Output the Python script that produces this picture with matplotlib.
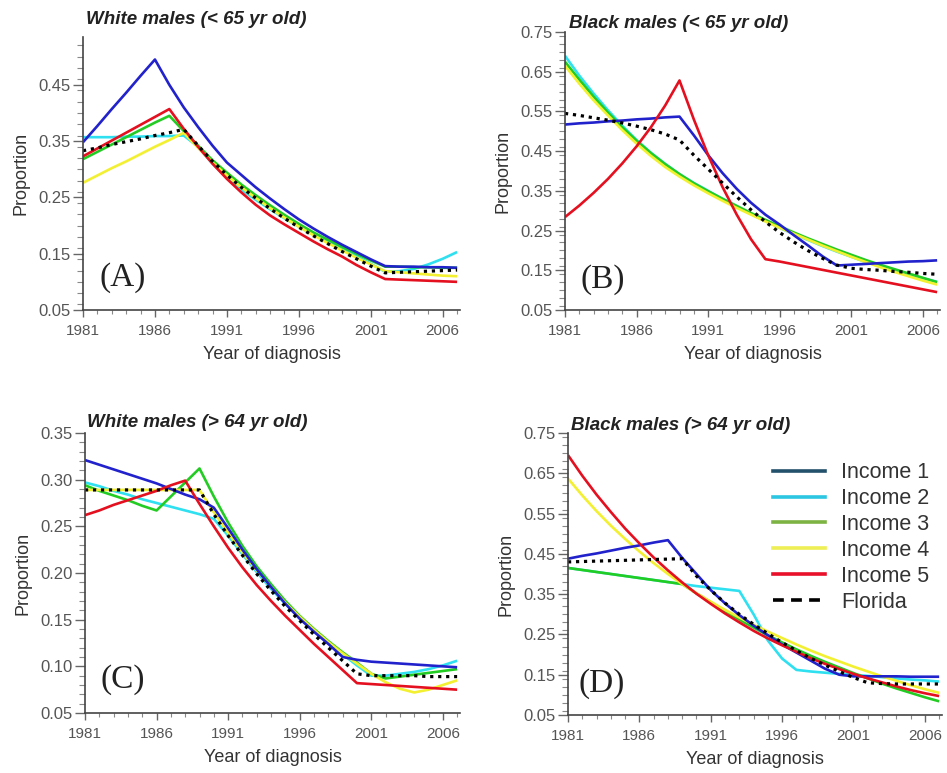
import matplotlib
matplotlib.use("Agg")
import matplotlib.pyplot as plt
from matplotlib.lines import Line2D
from matplotlib.ticker import MultipleLocator

plt.rcParams['font.family'] = ['Liberation Sans', 'DejaVu Sans']

years = list(range(1981, 2008))

# (A) White males < 65
a_inc1 = [.348, .377, .407, .436, .466, .495, .450, .410, .375, .342, .312, .290, .268, .248,
          .229, .211, .195, .180, .166, .153, .140, .128, .127, .127, .126, .126, .125]
a_inc2 = [.357, .357, .357, .358, .358, .359, .359, .360, .340, .310, .285, .264, .246, .229,
          .213, .198, .184, .171, .158, .146, .132, .118, .119, .123, .131, .141, .153]
a_inc3 = [.318, .331, .344, .357, .370, .383, .395, .368, .342, .316, .294, .273, .254, .236,
          .219, .203, .188, .175, .162, .150, .138, .127, .127, .126, .126, .125, .125]
a_inc4 = [.276, .289, .302, .314, .327, .340, .352, .365, .338, .312, .289, .268, .249, .231,
          .214, .198, .183, .169, .156, .143, .131, .119, .117, .115, .113, .111, .110]
a_inc5 = [.323, .337, .351, .365, .379, .393, .407, .372, .340, .310, .283, .259, .237, .218,
          .202, .187, .172, .158, .145, .130, .117, .105, .104, .103, .102, .101, .100]
a_fl = [.333, .338, .344, .349, .354, .360, .365, .371, .342, .314, .290, .268, .249, .230,
        .213, .197, .182, .168, .154, .141, .128, .116, .117, .118, .119, .120, .121]

# (B) Black males < 65
b_inc1 = [.517, .520, .522, .525, .527, .530, .532, .535, .537, .490, .440, .395, .355, .320,
          .290, .265, .238, .212, .185, .162, .164, .166, .168, .170, .172, .173, .175]
b_inc2 = [.690, .640, .595, .553, .514, .478, .446, .418, .392, .370, .350, .330, .311, .292,
          .274, .257, .241, .226, .211, .197, .184, .171, .160, .149, .139, .130, .121]
b_inc3 = [.675, .630, .587, .547, .510, .476, .445, .417, .392, .369, .349, .330, .312, .294,
          .277, .261, .245, .230, .216, .202, .189, .176, .164, .153, .142, .131, .120]
b_inc4 = [.665, .620, .578, .540, .503, .469, .438, .410, .386, .364, .344, .325, .307, .290,
          .273, .257, .242, .227, .212, .198, .184, .171, .158, .146, .135, .124, .114]
b_inc5 = [.284, .313, .345, .380, .419, .462, .510, .565, .628, .530, .440, .360, .290, .228,
          .178, .172, .165, .158, .151, .144, .137, .130, .123, .116, .109, .102, .095]
b_fl = [.545, .540, .534, .528, .521, .513, .504, .493, .478, .440, .405, .370, .335, .302,
        .272, .245, .221, .199, .180, .163, .155, .152, .150, .147, .145, .142, .140]

# (C) White males > 64
c_inc1 = [.321, .316, .311, .306, .301, .296, .290, .284, .279, .270, .248, .225, .204, .185,
          .167, .151, .137, .124, .110, .107, .105, .104, .103, .102, .101, .100, .099]
c_inc2 = [.297, .293, .288, .284, .279, .275, .271, .267, .263, .258, .240, .220, .201, .183,
          .167, .152, .138, .125, .113, .101, .090, .090, .092, .094, .097, .101, .106]
c_inc3 = [.294, .288, .283, .278, .272, .267, .282, .297, .312, .282, .254, .229, .207, .188,
          .170, .154, .140, .127, .115, .104, .092, .087, .089, .091, .093, .095, .097]
c_inc4 = [.289, .289, .289, .289, .289, .289, .289, .289, .289, .265, .243, .222, .203, .185,
          .168, .153, .139, .126, .114, .103, .092, .083, .076, .072, .075, .080, .085]
c_inc5 = [.262, .267, .273, .278, .283, .288, .294, .299, .274, .250, .227, .206, .187, .170,
          .154, .139, .124, .110, .096, .082, .081, .080, .079, .078, .077, .076, .075]
c_fl = [.289, .289, .289, .289, .289, .289, .289, .289, .289, .263, .240, .219, .199, .181,
        .164, .149, .134, .120, .106, .092, .090, .090, .090, .090, .089, .089, .089]

# (D) Black males > 64
d_inc1 = [.438, .445, .451, .458, .465, .471, .478, .484, .440, .400, .360, .327, .298, .272,
          .248, .225, .205, .185, .165, .150, .146, .146, .146, .146, .145, .145, .145]
d_inc2 = [.415, .410, .405, .400, .395, .390, .385, .380, .375, .370, .366, .362, .358, .300,
          .235, .190, .162, .158, .155, .152, .150, .147, .144, .141, .138, .136, .133]
d_inc3 = [.415, .410, .405, .400, .395, .390, .385, .380, .375, .352, .330, .308, .287, .267,
          .248, .230, .213, .197, .182, .168, .154, .141, .128, .116, .105, .094, .084]
d_inc4 = [.637, .595, .556, .520, .487, .456, .427, .400, .375, .352, .331, .311, .292, .274,
          .257, .241, .225, .210, .196, .183, .170, .158, .146, .135, .124, .114, .105]
d_inc5 = [.695, .644, .597, .554, .513, .476, .441, .409, .379, .351, .326, .302, .280, .259,
          .240, .223, .207, .191, .177, .164, .152, .141, .131, .121, .112, .104, .097]
d_fl = [.430, .431, .432, .433, .434, .435, .436, .437, .438, .395, .360, .328, .300, .275,
        .252, .230, .210, .191, .174, .158, .143, .130, .128, .127, .127, .127, .127]

labels = ['Income 1', 'Income 2', 'Income 3', 'Income 4', 'Income 5', 'Florida']
line_colors = ['#2222cc', '#2ee0f0', '#22cc22', '#f2f030', '#e41020']
legend_colors = ['#23506a', '#2cc6e2', '#7db342', '#eeee55', '#e8102a']

panels = [
    ('White males (< 65 yr old)', '(A)', [a_inc1, a_inc2, a_inc3, a_inc4, a_inc5, a_fl]),
    ('Black males (< 65 yr old)', '(B)', [b_inc1, b_inc2, b_inc3, b_inc4, b_inc5, b_fl]),
    ('White males (> 64 yr old)', '(C)', [c_inc1, c_inc2, c_inc3, c_inc4, c_inc5, c_fl]),
    ('Black males (> 64 yr old)', '(D)', [d_inc1, d_inc2, d_inc3, d_inc4, d_inc5, d_fl]),
]

# axes boxes in pixels: left, top, right, bottom
W, H = 947, 773
boxes = [(83, 37, 460, 310), (565, 32, 940, 310), (85, 433, 460, 713), (568, 433, 942, 715)]
ylims = [(0.05, 0.535), (0.05, 0.75), (0.05, 0.35), (0.05, 0.75)]
ystep = [0.1, 0.1, 0.05, 0.1]
yminor = [0.02, 0.02, 0.01, 0.02]
titles_px = [(86, 20), (569, 23), (87, 423), (571, 425)]
tag_pos = [(0.045, 0.12), (0.04, 0.108), (0.04, 0.118), (0.027, 0.113)]

fig = plt.figure(figsize=(W / 100, H / 100), dpi=100)

axes = []
for i, (title, tag, series) in enumerate(panels):
    l, t, r, b = boxes[i]
    ax = fig.add_axes([l / W, 1 - b / H, (r - l) / W, (b - t) / H])
    axes.append(ax)

    # order so that red and Florida sit on top
    for k in [1, 2, 3, 0, 4]:
        ax.plot(years, series[k], color=line_colors[k], lw=1.9, solid_capstyle='butt')
    ax.plot(years, series[5], color='black', lw=2.3, ls=(0, (1, 1.5)))

    ax.set_xlim(1981, 2007.2)
    ax.set_ylim(*ylims[i])
    ax.set_xticks(range(1981, 2007, 5))
    ax.xaxis.set_minor_locator(MultipleLocator(1))
    lo, hi = ylims[i]
    n = int((hi - lo) / ystep[i] + 1e-6) + 1
    yt = [lo + j * ystep[i] for j in range(n)]
    ax.set_yticks(yt)
    ax.set_yticklabels(['%.2f' % v for v in yt])
    ax.yaxis.set_minor_locator(MultipleLocator(yminor[i]))

    for s in ['top', 'right']:
        ax.spines[s].set_visible(False)
    for s in ['left', 'bottom']:
        ax.spines[s].set_color('#444444')
        ax.spines[s].set_linewidth(1.2)
    ax.tick_params(axis='y', which='major', length=7, width=1, color='#666666',
                   labelsize=12, labelcolor='#555555', pad=2)
    ax.tick_params(axis='y', which='minor', length=4, width=0.8, color='#888888')
    ax.tick_params(axis='x', which='major', length=5, width=1, color='#666666',
                   labelsize=11, labelcolor='#555555', pad=5)
    ax.tick_params(axis='x', which='minor', length=3, width=0.8, color='#888888')

    ax.set_xlabel('Year of diagnosis', fontsize=13, color='#333333', labelpad=6)
    ax.set_ylabel('Proportion', fontsize=13, color='#333333', labelpad=6)

    tx, ty = titles_px[i]
    fig.text(tx / W, 1 - ty / H, title, fontsize=13.5, fontweight='bold', fontstyle='italic',
             color='#222222', ha='left', va='center')
    ax.text(tag_pos[i][0], tag_pos[i][1], tag, transform=ax.transAxes, fontsize=24,
            family='Liberation Serif', color='#222222', ha='left', va='center')

# legend in panel D
handles = [Line2D([], [], color=c, lw=2.6) for c in legend_colors]
handles.append(Line2D([], [], color='black', lw=2.6, ls=(0, (3, 2))))
axes[3].legend(handles, labels, loc='upper left', bbox_to_anchor=(0.52, 0.935),
               frameon=False, fontsize=15.5, handlelength=2.4, handletextpad=0.75,
               labelspacing=0.23, borderpad=0, labelcolor='#333333')

fig.savefig('out.png', dpi=100)
